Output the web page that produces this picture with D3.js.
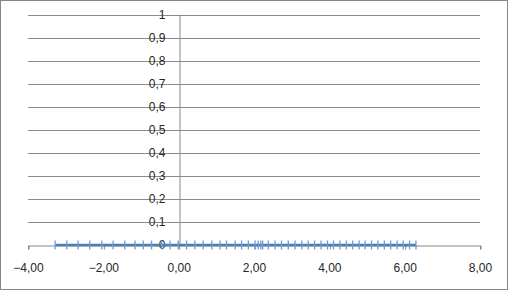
<!DOCTYPE html>
<meta charset="utf-8">
<style>
	body { margin: 0; background: #fff; }
	svg text { font-family: "Liberation Sans", Arial, sans-serif; font-size: 12px; fill: #262626; }
</style>
<div id="vis"></div>
<script src="https://cdn.jsdelivr.net/npm/d3@7"></script>
<script>
	// data (all points sit on y = 0)
	const xValues = [-3.28, -2.97, -2.67, -2.36, -2.04, -1.74, -1.43, -1.16, -0.94, -0.72,
		-0.45, -0.23, -0.01, 0.21, 0.43, 0.65, 0.88, 1.10, 1.27, 1.50,
		1.67, 1.85, 2.03, 2.11, 2.18, 2.23, 2.38, 2.56, 2.73, 2.91,
		3.09, 3.27, 3.44, 3.61, 3.78, 3.95, 4.11, 4.28, 4.45, 4.62,
		4.79, 4.95, 5.12, 5.29, 5.46, 5.63, 5.80, 5.96, 6.13, 6.30]
	const yValues = xValues.map(() => 0)
	const xTicks = [-4, -2, 0, 2, 4, 6, 8]
	const yTicks = [0, 0.1, 0.2, 0.3, 0.4, 0.5, 0.6, 0.7, 0.8, 0.9, 1]

	const width = 508, height = 290
	const plot = { left: 28, right: 480, top: 15, bottom: 245 }

	const svg = d3.select("#vis").append("svg")
		.attr("width", width)
		.attr("height", height)

	// outer frame
	svg.append("rect")
		.attr("x", 0.5).attr("y", 0.5)
		.attr("width", width - 1).attr("height", height - 1)
		.attr("fill", "#fff")
		.attr("stroke", "#868686")

	const x = d3.scaleLinear().domain([-4, 8]).range([plot.left, plot.right])
	const y = d3.scaleLinear().domain([0, 1]).range([plot.bottom, plot.top])

	// gridlines
	svg.append("g").selectAll("line").data(yTicks.filter(d => d > 0))
		.enter().append("line")
		.attr("x1", plot.left).attr("x2", plot.right)
		.attr("y1", d => Math.round(y(d)) + 0.5).attr("y2", d => Math.round(y(d)) + 0.5)
		.attr("stroke", "#8c8c8c")

	// x axis along y = 0
	const xAxis = d3.axisBottom(x).tickValues(xTicks)
		.tickSize(4).tickPadding(14)
		.tickFormat(d => d3.format(".2f")(d).replace(".", ","))
	const gx = svg.append("g")
		.attr("transform", `translate(0,${Math.round(y(0)) + 0.5})`)
		.call(xAxis)
	gx.select(".domain").attr("stroke", "#868686")
	gx.selectAll(".tick line").attr("stroke", "#868686").attr("x1", 0.5).attr("x2", 0.5)
	gx.selectAll("text").attr("font-size", 12).attr("font-family", null).style("fill", "#262626")

	// y axis along x = 0
	const yAxis = d3.axisLeft(y).tickValues(yTicks)
		.tickSize(4).tickPadding(10)
		.tickFormat(d => d3.format("")(d).replace(".", ","))
	const gy = svg.append("g")
		.attr("transform", `translate(${Math.round(x(0)) + 0.5},0)`)
		.call(yAxis)
	gy.select(".domain").attr("stroke", "#868686")
	gy.selectAll(".tick line").attr("stroke", "#868686")
	gy.selectAll("text").attr("font-size", 12).attr("font-family", null).style("fill", "#262626")

	// series line
	const pts = xValues.map((v, i) => [v, yValues[i]])
	svg.append("path")
		.datum(pts)
		.attr("fill", "none")
		.attr("stroke", "#4a7ebb")
		.attr("stroke-width", 2.5)
		.attr("d", d3.line().x(d => x(d[0])).y(d => y(d[1])))

	// dash markers
	svg.append("g").selectAll("line").data(pts)
		.enter().append("line")
		.attr("x1", d => x(d[0])).attr("x2", d => x(d[0]))
		.attr("y1", d => y(d[1]) - 4.5).attr("y2", d => y(d[1]) + 4.5)
		.attr("stroke", "#6f9bd1")
		.attr("stroke-width", 1.3)
</script>
